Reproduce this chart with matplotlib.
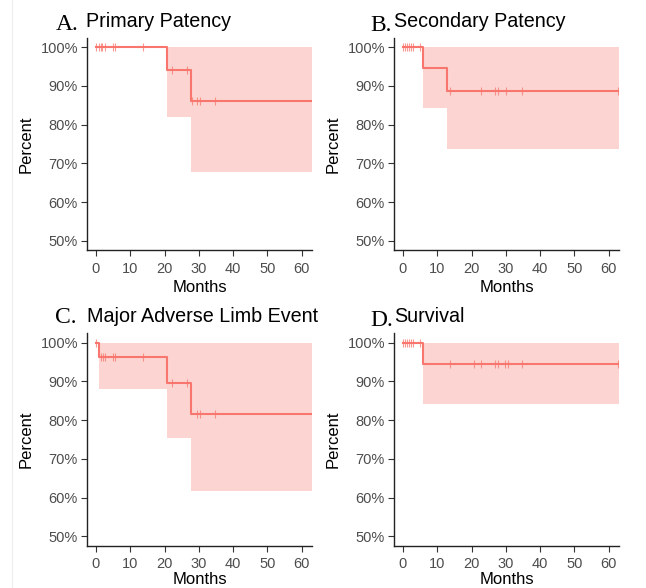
import numpy as np
import matplotlib
matplotlib.use("Agg")
import matplotlib.pyplot as plt
from matplotlib.ticker import FuncFormatter

# ---------------- data ----------------
panel_letters = ["A.", "B.", "C.", "D."]
panel_titles = ["Primary Patency", "Secondary Patency", "Major Adverse Limb Event", "Survival"]

a_time = [0, 20.6, 27.7, 63]
a_surv = [100, 94.0, 86.2, 86.2]
a_lower = [100, 82.0, 67.7, 67.7]
a_upper = [100, 100, 100, 100]
a_cens = [0, 0.8, 1.4, 1.9, 2.7, 4.9, 5.6, 13.8, 22.3, 26.6, 27.9, 29.6, 30.3, 34.7]

b_time = [0, 5.8, 12.8, 63]
b_surv = [100, 94.7, 88.8, 88.8]
b_lower = [100, 84.2, 73.7, 73.7]
b_upper = [100, 100, 100, 100]
b_cens = [0, 0.6, 1.2, 1.8, 2.3, 2.9, 4.9, 13.6, 22.8, 26.8, 27.6, 30.0, 34.8, 62.6]

c_time = [0, 0.8, 20.6, 27.7, 63]
c_surv = [100, 96.2, 89.5, 81.5, 81.5]
c_lower = [100, 88.0, 75.4, 61.6, 61.6]
c_upper = [100, 100, 100, 100, 100]
c_cens = [0, 1.4, 2.1, 2.7, 4.9, 5.6, 13.8, 22.3, 26.6, 29.6, 30.3, 34.7]

d_time = [0, 5.8, 63]
d_surv = [100, 94.6, 94.6]
d_lower = [100, 84.2, 84.2]
d_upper = [100, 100, 100]
d_cens = [0, 0.6, 1.2, 1.8, 2.3, 2.9, 4.9, 13.8, 20.6, 22.8, 26.8, 27.6, 29.8, 30.5, 34.8, 62.6]

x_ticks = [0, 10, 20, 30, 40, 50, 60]
y_ticks = [50, 60, 70, 80, 90, 100]

panels = [
    (a_time, a_surv, a_lower, a_upper, a_cens),
    (b_time, b_surv, b_lower, b_upper, b_cens),
    (c_time, c_surv, c_lower, c_upper, c_cens),
    (d_time, d_surv, d_lower, d_upper, d_cens),
]

# ---------------- layout ----------------
W, H = 646, 588
fig = plt.figure(figsize=(W / 100, H / 100), dpi=100)
fig.patch.set_facecolor("white")

LINE = "#F8766D"
TICKCOL = "#4D4D4D"
SANS = ["Liberation Sans", "DejaVu Sans"]
SERIF = ["Liberation Serif", "DejaVu Serif"]

# pixel boxes (left, right, top, bottom)
boxes = [(87, 312, 37.5, 250.5), (394, 619, 37.5, 250.5),
         (87, 312, 333, 546), (394, 619, 333, 546)]
title_pos = [  # letter x, letter baseline, title x, title baseline
    (56, 30, 86.5, 27), (370, 31, 394, 27),
    (55, 323, 87, 322), (370, 326, 394, 322)]
xlabel_pads = [3, 3, 0.5, 0.5]

# faint border line at left
fig.add_artist(plt.Line2D([12 / W, 12 / W], [0, 1], color="#EEEEEE", lw=0.8))


def step_value(times, vals, t):
    idx = np.searchsorted(np.asarray(times), t, side="right") - 1
    return np.asarray(vals)[max(idx, 0)]


for i, (tm, sv, lo, up, cens) in enumerate(panels):
    l, r, t, b = boxes[i]
    ax = fig.add_axes([l / W, 1 - b / H, (r - l) / W, (b - t) / H])
    ax.fill_between(tm, lo, up, step="post", color=LINE, alpha=0.3, lw=0)
    ax.step(tm, sv, where="post", color=LINE, lw=1.5)
    cy = [step_value(tm, sv, c) for c in cens]
    ax.plot(cens, cy, ls="none", marker="|", ms=6, mew=0.8, color=LINE, alpha=0.75)

    ax.set_xlim(-2.62, 63.0)
    ax.set_ylim(47.5, 102.5)
    ax.set_xticks(x_ticks)
    ax.set_yticks(y_ticks)
    ax.yaxis.set_major_formatter(FuncFormatter(lambda v, p: f"{int(v)}%"))
    for s in ["top", "right"]:
        ax.spines[s].set_visible(False)
    for s in ["left", "bottom"]:
        ax.spines[s].set_color("#222222")
        ax.spines[s].set_linewidth(1.0)
    ax.tick_params(length=4, width=0.8, color="#333333", labelcolor=TICKCOL,
                   labelsize=10.5, pad=2.5)
    ax.tick_params(axis="x", pad=4)
    for lab in ax.get_xticklabels() + ax.get_yticklabels():
        lab.set_family(SANS)
    ax.set_xlabel("Months", fontsize=12, family=SANS, color="black",
                  labelpad=xlabel_pads[i])
    ax.set_ylabel("Percent", fontsize=12, family=SANS, color="black", labelpad=5)

    lx, lb, tx, tb = title_pos[i]
    fig.text(lx / W, 1 - lb / H, panel_letters[i], fontsize=17, family=SERIF,
             color="black", ha="left", va="baseline")
    fig.text(tx / W, 1 - tb / H, panel_titles[i], fontsize=14.2, family=SANS,
             color="black", ha="left", va="baseline")

fig.savefig("out.png", dpi=100, facecolor="white")
